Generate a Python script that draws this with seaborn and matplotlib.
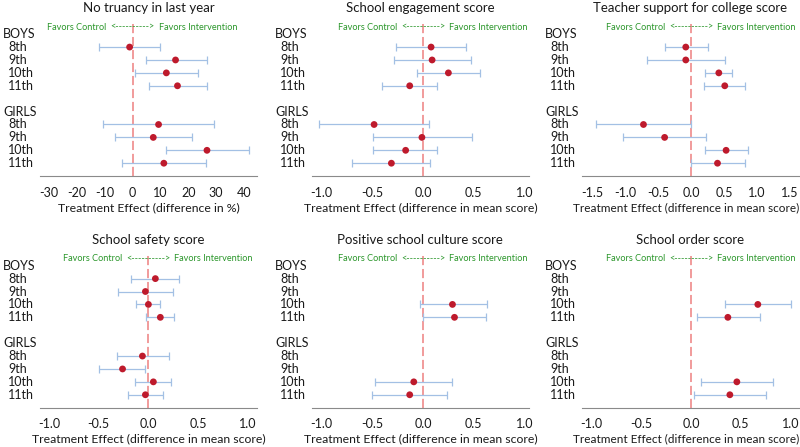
import numpy as np
import pandas as pd
import seaborn as sns
from matplotlib import pyplot as plt
from matplotlib import transforms

sns.set_style("white")
plt.rcParams["font.family"] = ["Lato", "DejaVu Sans"]
plt.rcParams["axes.unicode_minus"] = False

nan = np.nan
groups = ["BOYS", "GIRLS"]
grades = ["8th", "9th", "10th", "11th"]

titles = [
    "No truancy in last year",
    "School engagement score",
    "Teacher support for college score",
    "School safety score",
    "Positive school culture score",
    "School order score",
]
xlabels = [
    "Treatment Effect (difference in %)",
    "Treatment Effect (difference in mean score)",
    "Treatment Effect (difference in mean score)",
    "Treatment Effect (difference in mean score)",
    "Treatment Effect (difference in mean score)",
    "Treatment Effect (difference in mean score)",
]

# boys 8th-11th, then girls 8th-11th
truancy_est = [-1.1, 15.4, 12.1, 16.1, 9.3, 7.4, 26.7, 11.2]
truancy_lo = [-12.0, 4.7, 0.7, 5.9, -10.8, -6.5, 11.8, -3.7]
truancy_hi = [9.8, 26.6, 23.3, 26.6, 29.4, 21.4, 41.7, 26.4]

engage_est = [0.08, 0.09, 0.25, -0.13, -0.48, -0.01, -0.17, -0.31]
engage_lo = [-0.26, -0.28, -0.06, -0.40, -1.02, -0.49, -0.49, -0.70]
engage_hi = [0.42, 0.47, 0.56, 0.14, 0.06, 0.48, 0.14, 0.07]

teacher_est = [-0.08, -0.08, 0.42, 0.51, -0.72, -0.40, 0.53, 0.40]
teacher_lo = [-0.40, -0.67, 0.21, 0.20, -1.44, -1.03, 0.21, 0.00]
teacher_hi = [0.25, 0.52, 0.62, 0.82, 0.00, 0.23, 0.86, 0.81]

safety_est = [0.07, -0.03, 0.00, 0.12, -0.06, -0.26, 0.05, -0.03]
safety_lo = [-0.17, -0.31, -0.12, -0.02, -0.32, -0.50, -0.13, -0.21]
safety_hi = [0.31, 0.25, 0.12, 0.26, 0.21, -0.03, 0.23, 0.15]

culture_est = [nan, nan, 0.29, 0.31, nan, nan, -0.09, -0.13]
culture_lo = [nan, nan, -0.03, 0.00, nan, nan, -0.47, -0.50]
culture_hi = [nan, nan, 0.63, 0.62, nan, nan, 0.29, 0.24]

order_est = [nan, nan, 0.67, 0.37, nan, nan, 0.46, 0.39]
order_lo = [nan, nan, 0.34, 0.06, nan, nan, 0.10, 0.03]
order_hi = [nan, nan, 1.00, 0.69, nan, nan, 0.82, 0.75]

panels = [
    (truancy_est, truancy_lo, truancy_hi, np.arange(-30, 41, 10), "{:.0f}", (-33.3, 44.6)),
    (engage_est, engage_lo, engage_hi, np.arange(-1.0, 1.01, 0.5), "{:.1f}", (-1.09, 1.04)),
    (teacher_est, teacher_lo, teacher_hi, np.arange(-1.5, 1.51, 0.5), "{:.1f}", (-1.65, 1.63)),
    (safety_est, safety_lo, safety_hi, np.arange(-1.0, 1.01, 0.5), "{:.1f}", (-1.09, 1.09)),
    (culture_est, culture_lo, culture_hi, np.arange(-1.0, 1.01, 0.5), "{:.1f}", (-1.09, 1.04)),
    (order_est, order_lo, order_hi, np.arange(-1.0, 1.01, 0.5), "{:.1f}", (-1.09, 1.08)),
]

# row layout: group header, 4 grades, gap, group header, 4 grades
row_labels = ["BOYS"] + grades + [""] + ["GIRLS"] + grades
row_indent = [0, 1, 1, 1, 1, 0, 0, 1, 1, 1, 1]
data_rows = [1, 2, 3, 4, 7, 8, 9, 10]

fig = plt.figure(figsize=(8, 4.47), dpi=100)
lefts = [0.05, 0.39, 0.7275]
bottoms = [0.606, 0.088]
width, height = 0.271, 0.345

red = "#be1a2c"
blue = "#a3c0e4"
green = "#2a962a"
txt = "#1a1a1a"
fs = 8.6

for i, (est, lo, hi, ticks, fmt, xlim) in enumerate(panels):
    ax = fig.add_axes([lefts[i % 3], bottoms[i // 3], width, height])
    df = pd.DataFrame({"row": data_rows, "est": est, "lo": lo, "hi": hi})
    df = df.dropna()

    ax.axvline(0, color="#ee8080", lw=1.1, dashes=(6, 2.5), zorder=1)
    ax.errorbar(
        df["est"], df["row"],
        xerr=[df["est"] - df["lo"], df["hi"] - df["est"]],
        fmt="none", ecolor=blue, elinewidth=0.9, capsize=2.6, capthick=0.9, zorder=2,
    )
    sns.scatterplot(data=df, x="est", y="row", color=red, s=24, edgecolor="none",
                    zorder=3, ax=ax, legend=False)

    ax.set_xlim(*xlim)
    ax.set_ylim(11.0, -0.95)
    ax.set_xticks(ticks)
    ax.set_xticklabels([fmt.format(t) for t in ticks], fontsize=fs + 0.4, color=txt)
    ax.set_yticks([])
    # right column sits against the figure edge, so its label is a touch smaller
    if i % 3 == 2:
        ax.set_xlabel(xlabels[i], fontsize=fs - 0.1, color=txt, labelpad=2.5)
        ax.xaxis.label.set_x(0.48)
    else:
        ax.set_xlabel(xlabels[i], fontsize=fs + 0.2, color=txt, labelpad=2.5)
    ax.set_ylabel("")
    ax.set_title(titles[i], fontsize=fs + 0.9, color=txt, pad=7)
    for s in ["top", "left", "right"]:
        ax.spines[s].set_visible(False)
    ax.spines["bottom"].set_color("#8a8a8a")
    ax.tick_params(axis="x", length=2.5, color="#8a8a8a", pad=5)

    tr = transforms.blended_transform_factory(ax.transAxes, ax.transData)
    for r, (lab, ind) in enumerate(zip(row_labels, row_indent)):
        off = transforms.ScaledTranslation((-37 + 5 * ind) / 100, 0, fig.dpi_scale_trans)
        ax.text(0, r, lab, transform=tr + off, ha="left", va="center",
                fontsize=fs + 0.4, color=txt)

    # green direction banner around the zero line
    tz = transforms.blended_transform_factory(ax.transData, ax.transData)
    for s, dx, ha in [("Favors Control", -26, "right"),
                      ("<" + "-" * 10 + ">", 0, "center"),
                      ("Favors Intervention", 26, "left")]:
        off = transforms.ScaledTranslation(dx / 100, 0, fig.dpi_scale_trans)
        ax.text(0, -0.55, s, transform=tz + off, ha=ha, va="center",
                fontsize=6.6, color=green)

fig.savefig("out.png", dpi=100)
